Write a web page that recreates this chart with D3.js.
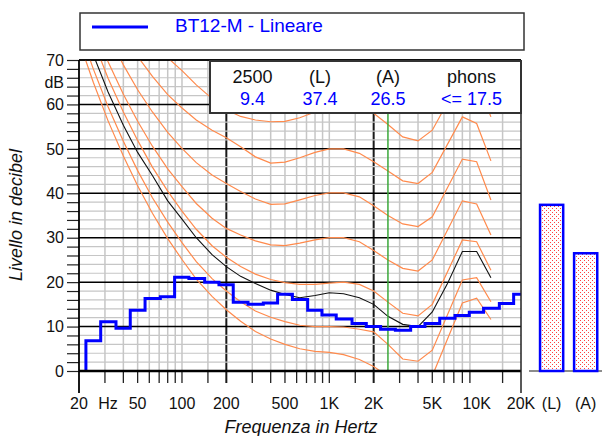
<!DOCTYPE html>
<html><head><meta charset="utf-8">
<script src="https://cdn.jsdelivr.net/npm/d3@7"></script>
<style>
html,body{margin:0;padding:0;background:#fff;}
svg{display:block;font-family:"Liberation Sans",Arial,Helvetica,sans-serif;}
</style></head><body>
<svg id="chart" width="602" height="436"></svg>
<script>
// 1/3-octave band spectrum (linear weighting), dB
const bandHz = [25,31.5,40,50,63,80,100,125,160,200,250,315,400,500,630,800,1000,1250,1600,2000,2500,3150,4000,5000,6300,8000,10000,12500,16000,20000];
const bandLevel = [6.8,11.1,9.6,13.7,16.3,16.7,21.1,20.8,20.0,19.4,15.5,15.0,15.3,17.3,16.1,13.7,12.6,11.7,10.7,10.0,9.4,9.2,10.0,10.7,11.9,12.5,13.2,14.1,15.2,17.3];

// Equal-loudness contours sampled at these frequencies (null = no point)
const contourHz = [20,25,31.5,40,50,63,80,100,125,160,200,250,315,400,500,630,800,1000,1250,1600,2000,2500,3150,4000,5000,6300,8000,10000,12500];
const thresholdCurve = [74.3,65.0,56.3,48.4,41.7,35.5,29.8,25.1,20.7,16.8,13.8,11.2,8.9,7.2,6.0,5.0,4.4,4.2,3.7,2.6,1.0,-1.2,-3.6,-3.9,-1.1,null,15.3,16.4,11.6];
const phon10 = [77.2,68.0,59.5,51.7,45.1,39.0,33.5,28.9,24.6,20.8,18.0,15.6,13.5,12.1,11.1,10.3,10.0,10.0,9.9,9.4,8.8,6.0,2.7,2.2,4.7,null,20.5,21.0,15.6];
const phon20 = [83.4,74.4,65.9,58.3,51.9,45.9,40.5,36.0,31.9,28.2,25.6,23.5,21.8,20.6,19.9,19.5,19.5,19.8,20.0,19.5,18.0,15.5,13.0,12.4,15.0,null,29.5,29.1,22.7];
const phon30 = [86.3,77.7,69.6,62.3,56.2,50.6,45.5,41.5,37.7,34.4,32.1,30.6,29.3,28.4,28.2,28.8,29.5,30.0,30.0,29.1,27.1,25.0,23.1,22.5,25.0,null,38.3,37.6,30.6];
const phon40 = [null,83.2,75.7,68.9,63.3,58.3,53.7,50.1,46.9,44.1,42.2,40.4,38.7,37.5,37.6,38.5,39.5,40.1,40.1,39.2,37.2,35.0,33.1,32.5,34.7,null,47.7,47.1,38.5];
const phon50 = [null,null,null,75.8,70.8,66.3,62.2,59.2,56.5,54.2,52.5,50.5,48.2,46.8,47.0,48.0,49.2,50.0,50.0,49.0,47.1,45.0,42.8,42.2,44.7,null,57.2,55.7,47.3];
const phon60 = [null,null,null,null,77.0,73.5,70.5,67.6,64.4,61.3,58.8,57.3,56.5,56.1,56.2,57.0,58.3,60.0,60.5,60.0,58.0,55.5,52.7,51.8,54.2,null,66.5,65.6,57.2];
// contour matching the measured loudness (17.5 phon)
const phonMeasured = [80.1,71.2,62.8,55.3,49.2,44.0,38.3,34.2,30.0,26.2,23.5,21.3,19.7,18.2,17.2,16.5,17.0,17.6,17.4,16.5,15.0,12.3,10.5,10.0,13.3,19.5,26.9,26.9,21.0];

// Overall levels
const totalLabels = ["(L)","(A)"];
const totalLevels = [37.4,26.5];

// Summary table
const summaryHead = ["2500","(L)","(A)","phons"];
const summaryValue = ["9.4","37.4","26.5","<= 17.5"];
const markerHz = 2500;

// Axis labels
const xTickLabels = [[20,"20"],[31.5,"Hz"],[50,"50"],[100,"100"],[200,"200"],[500,"500"],[1000,"1K"],[2000,"2K"],[5000,"5K"],[10000,"10K"],[20000,"20K"]];
const yTickLabels = [0,10,20,30,40,50,60,70];
const legendLabel = "BT12-M - Lineare";

const svg = d3.select("#chart");
const L = 79, R = 521, T = 60, B = 371;
const x = d3.scaleLog().domain([20,20000]).range([L,R]);
const y = d3.scaleLinear().domain([0,70]).range([B,T]);

const ORANGE = "#ff8a4c", BLUE = "#0000ff", GRIDG = "#c6c6c6";

const defs = svg.append("defs");
defs.append("clipPath").attr("id","plotClip").append("rect")
  .attr("x",L).attr("y",T).attr("width",R-L).attr("height",B-T);
const pat = defs.append("pattern").attr("id","dots").attr("patternUnits","userSpaceOnUse")
  .attr("width",4).attr("height",4);
pat.append("rect").attr("width",4).attr("height",4).attr("fill","#fff");
[[0,0],[2,2]].forEach(p => pat.append("rect").attr("x",p[0]).attr("y",p[1])
  .attr("width",1).attr("height",1).attr("fill","#ff4040"));

// minor frequency grid: 3..9, 10 and 15 per decade
const minorHz = [];
[10,100,1000].forEach(d => {
  [3,4,5,6,7,8,9,10,15].forEach(m => { if (m*d < 20000 && !(m===10 && d===1000)) minorHz.push(m*d); });
});
const majorHz = [200,2000];

const grid = svg.append("g");
// major frequency lines (light grid drawn over them)
grid.selectAll("line.vb").data(majorHz).join("line")
  .attr("x1",d=>x(d)).attr("x2",d=>x(d)).attr("y1",T).attr("y2",B+12)
  .attr("stroke","#1a1a1a").attr("stroke-width",2);
// gray horizontal grid every 2 dB
grid.selectAll("line.hg").data(d3.range(2,70,2).filter(v => v%10)).join("line")
  .attr("x1",L).attr("x2",R).attr("y1",d=>y(d)).attr("y2",d=>y(d))
  .attr("stroke",GRIDG).attr("stroke-width",1.2);
// gray vertical grid
grid.selectAll("line.vg").data(minorHz).join("line")
  .attr("x1",d=>x(d)).attr("x2",d=>x(d)).attr("y1",T).attr("y2",B)
  .attr("stroke",GRIDG).attr("stroke-width",1.5);
// black horizontal lines every 10 dB
grid.selectAll("line.hb").data(d3.range(10,71,10)).join("line")
  .attr("x1",L).attr("x2",R).attr("y1",d=>y(d)).attr("y2",d=>y(d))
  .attr("stroke","#000").attr("stroke-width",1.5);

// bottom tick marks
svg.append("g").selectAll("line").data(minorHz).join("line")
  .attr("x1",d=>x(d)).attr("x2",d=>x(d)).attr("y1",B).attr("y2",B+12)
  .attr("stroke","#222").attr("stroke-width",1.3);

// left axis ticks every 2 dB
const yAxis = d3.axisLeft(y).tickValues(d3.range(0,71,2)).tickSize(12).tickFormat("");
const gy = svg.append("g").attr("transform",`translate(${L},0)`).call(yAxis);
gy.select(".domain").remove();
gy.selectAll(".tick line").attr("stroke","#222").attr("stroke-width",1.2);

const plot = svg.append("g").attr("clip-path","url(#plotClip)");
const line = d3.line().x(d=>x(d[0])).y(d=>y(d[1]));
const series = (vals) => contourHz.map((f,i)=>[f,vals[i]]).filter(d=>d[1]!==null);

[thresholdCurve,phon10,phon20,phon30,phon40,phon50,phon60].forEach(v => {
  plot.append("path").attr("d",line(series(v)))
    .attr("fill","none").attr("stroke",ORANGE).attr("stroke-width",1.2);
});
plot.append("path").attr("d",line(series(phonMeasured)))
  .attr("fill","none").attr("stroke","#111").attr("stroke-width",1.1);

// marker frequency line
plot.append("line").attr("x1",x(markerHz)).attr("x2",x(markerHz)).attr("y1",T).attr("y2",B)
  .attr("stroke","#3aa83a").attr("stroke-width",1.5);

// spectrum steps: each band spans fc*10^(-0.05) .. fc*10^(0.05)
const edge = Math.pow(10,0.05);
const stepPts = [[bandHz[0]/edge,0]];
bandHz.forEach((f,i)=> stepPts.push([f/edge, bandLevel[i]]));
stepPts.push([20000, bandLevel[bandLevel.length-1]]);
plot.append("path")
  .attr("d", d3.line().x(d=>x(d[0])).y(d=>y(d[1])).curve(d3.curveStepAfter)(stepPts))
  .attr("fill","none").attr("stroke",BLUE).attr("stroke-width",3);

// plot frame
svg.append("line").attr("x1",L).attr("x2",R).attr("y1",T).attr("y2",T).attr("stroke","#000").attr("stroke-width",1.5);
svg.append("line").attr("x1",L).attr("x2",R).attr("y1",B).attr("y2",B).attr("stroke","#000").attr("stroke-width",2.5);
svg.append("line").attr("x1",L).attr("x2",L).attr("y1",T).attr("y2",B+22).attr("stroke","#000").attr("stroke-width",1.8);
svg.append("line").attr("x1",R).attr("x2",R).attr("y1",T).attr("y2",B+22).attr("stroke","#222").attr("stroke-width",1.5);

// y labels
svg.append("g").selectAll("text").data(yTickLabels).join("text")
  .attr("x",64).attr("y",d=>y(d)).attr("dy","0.36em").attr("text-anchor","end")
  .attr("font-size",16).attr("fill","#111").text(d=>d);
svg.append("text").attr("x",64).attr("y",y(65)).attr("dy","0.36em").attr("text-anchor","end")
  .attr("font-size",16).attr("fill","#111").text("dB");

// x labels
svg.append("g").selectAll("text").data(xTickLabels).join("text")
  .attr("x",d=>x(d[0])).attr("y",409).attr("text-anchor","middle")
  .attr("font-size",16).attr("fill","#111").text(d=>d[1]);

// overall level bars
const xb = d3.scaleBand().domain(totalLabels).range([534.6,602.7]).paddingInner(0.32).paddingOuter(0.16);
svg.append("line").attr("x1",529).attr("x2",602).attr("y1",B).attr("y2",B).attr("stroke","#666").attr("stroke-width",1.5);
svg.append("g").selectAll("rect").data(totalLevels).join("rect")
  .attr("x",(d,i)=>xb(totalLabels[i])).attr("width",xb.bandwidth())
  .attr("y",d=>y(d)).attr("height",d=>B-y(d))
  .attr("fill","url(#dots)").attr("stroke",BLUE).attr("stroke-width",2.5);
svg.append("g").selectAll("text").data(totalLabels).join("text")
  .attr("x",d=>xb(d)+xb.bandwidth()/2).attr("y",409).attr("text-anchor","middle")
  .attr("font-size",16).attr("fill","#111").text(d=>d);

// axis titles
svg.append("text").attr("x",301).attr("y",433).attr("text-anchor","middle")
  .attr("font-size",18).attr("font-style","italic").attr("fill","#111").text("Frequenza in Hertz");
svg.append("text").attr("transform","translate(22,215) rotate(-90)").attr("text-anchor","middle")
  .attr("font-size",18).attr("font-style","italic").attr("fill","#111").text("Livello in decibel");

// summary table
svg.append("rect").attr("x",210).attr("y",61).attr("width",311).attr("height",52)
  .attr("fill","#fff").attr("stroke","#333").attr("stroke-width",2);
const colX = [252.5,320,388,471.5];
svg.append("g").selectAll("text").data(summaryHead).join("text")
  .attr("x",(d,i)=>colX[i]).attr("y",83).attr("text-anchor","middle")
  .attr("font-size",18).attr("fill","#111").text(d=>d);
svg.append("g").selectAll("text").data(summaryValue).join("text")
  .attr("x",(d,i)=>colX[i]).attr("y",104.5).attr("text-anchor","middle")
  .attr("font-size",18).attr("fill",BLUE).text(d=>d);

// legend
svg.append("rect").attr("x",80).attr("y",13).attr("width",444).attr("height",37)
  .attr("fill","#fff").attr("stroke","#333").attr("stroke-width",1.5);
svg.append("line").attr("x1",92).attr("x2",148).attr("y1",27).attr("y2",27)
  .attr("stroke",BLUE).attr("stroke-width",3);
svg.append("text").attr("x",175).attr("y",32).attr("font-size",19).attr("fill",BLUE).text(legendLabel);
</script>
</body></html>
